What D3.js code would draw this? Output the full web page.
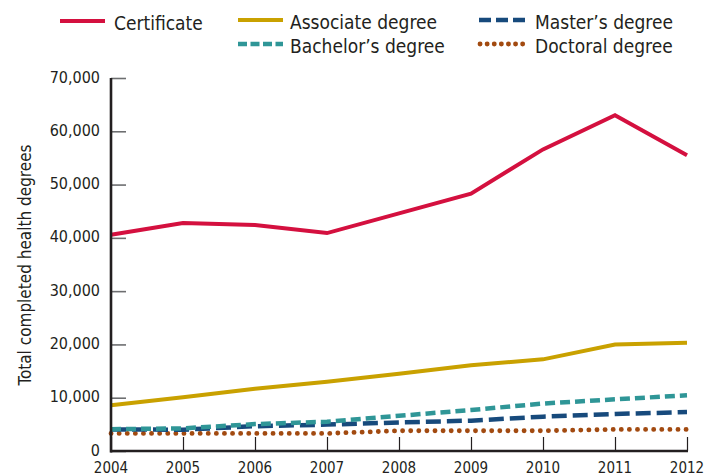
<!DOCTYPE html>
<html><head><meta charset="utf-8">
<script src="https://cdn.jsdelivr.net/npm/d3@7"></script>
<style>
body{margin:0;background:#fff;}
text{font-family:"DejaVu Sans Condensed","Open Sans",sans-serif;fill:#231f20;}
</style></head>
<body><svg id="c" width="720" height="476"></svg>
<script>
const years = [2004,2005,2006,2007,2008,2009,2010,2011,2012];
const certificate = [40600,42800,42400,40900,44600,48300,56600,63000,55500];
const associate = [8600,10100,11700,13000,14500,16100,17200,20000,20300];
const bachelor = [4100,4250,5050,5500,6600,7700,8900,9700,10450];
const master = [4050,4000,4650,4950,5350,5700,6450,6950,7300];
const doctoral = [3300,3300,3300,3300,3800,3800,3800,4050,4050];
const yTicks = [0,10000,20000,30000,40000,50000,60000,70000];
const seriesNames = ["Certificate","Associate degree","Master’s degree","Bachelor’s degree","Doctoral degree"];

const styles = {
  "Certificate":{color:"#d4103f",dash:null,cap:"butt",w:4,ldash:null},
  "Associate degree":{color:"#c9a100",dash:null,cap:"butt",w:4,ldash:null},
  "Master’s degree":{color:"#174a7c",dash:"15 6",cap:"butt",w:4.5,ldash:"12 5"},
  "Bachelor’s degree":{color:"#2f9697",dash:"10 5",cap:"butt",w:4.5,ldash:"9 3.5"},
  "Doctoral degree":{color:"#a24a10",dash:"0.1 8",cap:"round",w:4.8,ldash:"0.1 7"}
};
const data = {
  "Certificate":certificate,
  "Associate degree":associate,
  "Master’s degree":master,
  "Bachelor’s degree":bachelor,
  "Doctoral degree":doctoral
};

const svg = d3.select("#c");
const x = d3.scaleLinear().domain([2004,2012]).range([111,687]);
const y = d3.scaleLinear().domain([0,70000]).range([451,78]);

// y ticks (inward, gray)
const yAx = svg.append("g").attr("transform","translate(111,0)")
  .call(d3.axisRight(y).tickValues(yTicks).tickSize(15).tickFormat(""));
yAx.select(".domain").remove();
yAx.selectAll(".tick line").attr("stroke","#6d6e70").attr("stroke-width",1.6);
svg.append("g").selectAll("text").data(yTicks).join("text")
  .attr("x",100).attr("y",d=>y(d)+4.5).attr("text-anchor","end")
  .attr("font-size",16).text(d=>d3.format(",")(d));

// x ticks (inward, dark)
const xAx = svg.append("g").attr("transform","translate(0,451)")
  .call(d3.axisTop(x).tickValues(years).tickSize(14).tickFormat(""));
xAx.select(".domain").remove();
xAx.selectAll(".tick line").attr("stroke","#231f20").attr("stroke-width",1.2);
svg.append("g").selectAll("text").data(years).join("text")
  .attr("x",d=>x(d)).attr("y",472.5).attr("text-anchor","middle")
  .attr("font-size",15).text(d=>d);

// lines
const line = d3.line().x((d,i)=>x(years[i])).y(d=>y(d));
["Doctoral degree","Master’s degree","Bachelor’s degree","Associate degree","Certificate"].forEach(n=>{
  const s = styles[n];
  svg.append("path").datum(data[n]).attr("d",line).attr("fill","none")
    .attr("stroke",s.color).attr("stroke-width",s.w).attr("stroke-linecap",s.cap)
    .attr("stroke-linejoin","miter")
    .attr("stroke-dasharray",s.dash);
});

// axes lines
svg.append("line").attr("x1",111).attr("x2",111).attr("y1",78).attr("y2",452.5)
  .attr("stroke","#231f20").attr("stroke-width",2.6);
svg.append("line").attr("x1",110).attr("x2",688).attr("y1",451).attr("y2",451)
  .attr("stroke","#231f20").attr("stroke-width",2.6);

// y label
svg.append("text").attr("transform","translate(31,265) rotate(-90)")
  .attr("text-anchor","middle").attr("font-size",17).text("Total completed health degrees");

// legend
const leg = [
  {n:"Certificate",x1:60,x2:105,y:21,tx:114},
  {n:"Associate degree",x1:238,x2:283,y:20,tx:290},
  {n:"Master’s degree",x1:479,x2:525,y:20,tx:535},
  {n:"Bachelor’s degree",x1:238,x2:283,y:44,tx:290},
  {n:"Doctoral degree",x1:480,x2:525,y:44,tx:535}
];
leg.forEach(l=>{
  const s = styles[l.n];
  svg.append("line").attr("x1",l.x1).attr("x2",l.x2).attr("y1",l.y).attr("y2",l.y)
    .attr("stroke",s.color).attr("stroke-width",s.w).attr("stroke-linecap",s.cap)
    .attr("stroke-dasharray",s.ldash);
  svg.append("text").attr("x",l.tx).attr("y",l.y+9).attr("font-size",19).text(l.n);
});
</script></body></html>
